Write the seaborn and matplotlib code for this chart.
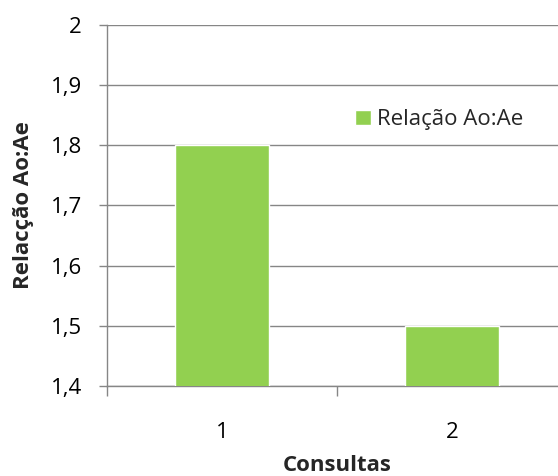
import matplotlib
matplotlib.use("Agg")
import matplotlib.pyplot as plt
import seaborn as sns
import pandas as pd
from matplotlib.ticker import FixedLocator, MultipleLocator, FuncFormatter

consultas = ["1", "2"]
relacao = [1.8, 1.5]
series_name = "Relação Ao:Ae"

sns.set_theme(style="white")
plt.rcParams["font.family"] = ["Open Sans", "DejaVu Sans"]

df = pd.DataFrame({"Consultas": consultas, "Relacao": relacao})

fig = plt.figure(figsize=(5.58, 4.76), dpi=100)
ax = fig.add_axes([0.1918, 0.1891, 0.8244, 0.7584])

grid_c = "#868686"
fs = 16
sns.barplot(data=df, x="Consultas", y="Relacao", color="#92D050", width=0.41,
            saturation=1, ax=ax, label=series_name, zorder=3)
handles, labels = ax.get_legend_handles_labels()
if ax.get_legend() is not None:
    ax.get_legend().remove()

ax.set_ylim(1.4, 2.0)
ax.set_xlim(-0.5, 1.5)
ax.yaxis.set_major_locator(MultipleLocator(0.1))
ax.yaxis.set_major_formatter(FuncFormatter(lambda v, p: f"{v:.1f}".replace(".", ",").replace(",0", "")))
ax.grid(axis="y", color=grid_c, linewidth=1, zorder=0)
ax.set_axisbelow(True)

for s in ["top", "right"]:
    ax.spines[s].set_visible(False)
for s in ["left", "bottom"]:
    ax.spines[s].set_color(grid_c)
    ax.spines[s].set_linewidth(1)

ax.tick_params(axis="y", which="major", left=True, length=6, width=1, color=grid_c,
               labelsize=fs, labelcolor="black", pad=12)
ax.tick_params(axis="x", which="major", bottom=False, length=0, labelsize=fs,
               labelcolor="black", pad=26)
ax.xaxis.set_minor_locator(FixedLocator([-0.5, 0.5, 1.5]))
ax.tick_params(axis="x", which="minor", bottom=True, length=7, width=1, color=grid_c)

ax.set_xlabel("Consultas", fontsize=fs, fontweight="bold", labelpad=8.5)
ax.set_ylabel("Relacção Ao:Ae", fontsize=fs, fontweight="bold", labelpad=12)

fpx = fs * 100 / 72
fig.legend(handles, labels, loc="center left",
           bbox_to_anchor=(355 / 558, 1 - 120 / 476), frameon=False,
           borderpad=0, borderaxespad=0,
           handlelength=16 / fpx, handleheight=15 / fpx,
           handletextpad=6 / fpx, fontsize=fs)

fig.savefig("out.png", dpi=100)
